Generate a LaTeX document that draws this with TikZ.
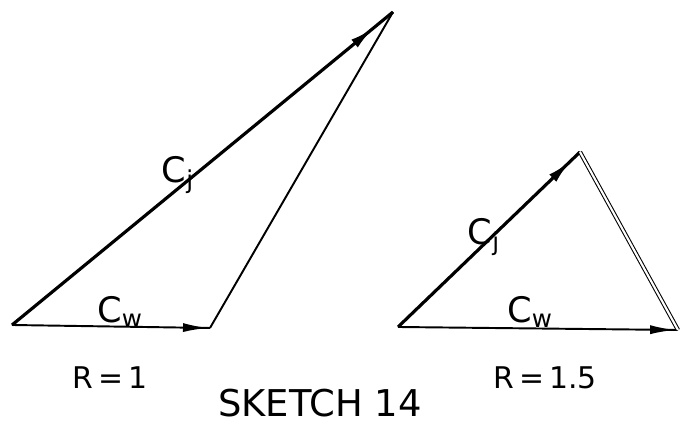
\documentclass[tikz,border=0pt]{standalone}
\usepackage{fontspec}
\setmainfont{DejaVu Sans}
\usepackage{tikz}
\usetikzlibrary{arrows.meta,decorations.markings}

\begin{document}
\begin{tikzpicture}[
  >=Latex,
  vecA/.style={line width=1.8pt, postaction={decorate},
    decoration={markings, mark=at position 0.95 with {\arrow{Latex[length=5mm,width=2mm]}}}},
  vecB/.style={line width=1.1pt, postaction={decorate},
    decoration={markings, mark=at position 0.99 with {\arrow{Latex[length=5mm,width=1.8mm]}}}},
  side/.style={line width=1.1pt},
  sidedbl/.style={double, double distance=1.2pt, line width=0.6pt},
  lbl/.style={font=\fontsize{17}{17}\selectfont},
  vlbl/.style={font=\fontsize{20}{20}\selectfont},
]
\useasboundingbox (0,0) rectangle (13.62,8.5);

% Dreieck links
\coordinate (oL) at (0.24,2.00);
\coordinate (aL) at (7.86,8.26);
\coordinate (bL) at (4.20,1.94);
\draw[vecA] (oL) -- (aL);
\draw[vecB] (oL) -- (bL);
\draw[side] (bL) -- (aL);
\node[vlbl] (cjL) at (3.56,5.00) {C\textsubscript{j}};
\node[vlbl] (cwL) at (2.40,2.26) {C\textsubscript{w}};
\node[lbl] (rL)  at (2.20,0.94) {R\,=\,1};

% Dreieck rechts
\coordinate (oR) at (7.96,1.96);
\coordinate (aR) at (11.60,5.46);
\coordinate (bR) at (13.56,1.90);
\draw[vecA] (oR) -- (aR);
\draw[vecB] (oR) -- (bR);
\draw[sidedbl] (aR) -- (bR);
\node[vlbl] (cjR) at (9.68,3.76) {C\textsubscript{j}};
\node[vlbl] (cwR) at (10.60,2.26) {C\textsubscript{w}};
\node[lbl] (rR)  at (10.90,0.94) {R\,=\,1.5};

\node[font=\fontsize{21}{21}\selectfont] (title) at (6.40,0.44) {SKETCH 14};
\end{tikzpicture}
\end{document}
